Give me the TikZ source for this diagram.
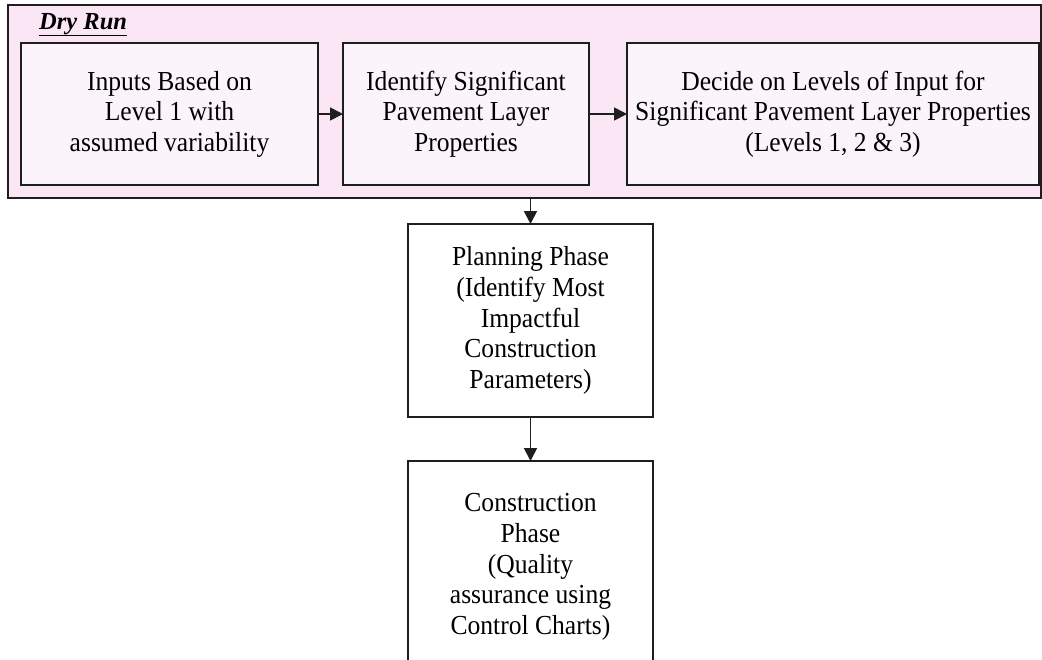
\documentclass[tikz,border=0pt]{standalone}
\usepackage{fontspec}
\setmainfont{Liberation Serif}[FakeStretch=0.93]
\newfontfamily\titlefont{Liberation Serif}
\usetikzlibrary{arrows.meta}
\definecolor{outerpink}{RGB}{251,230,246}
\definecolor{innerpink}{RGB}{252,244,251}
\definecolor{edge}{RGB}{30,30,30}
\tikzset{
  outerbox/.style={draw=edge, line width=1.5pt, fill=outerpink, rectangle, inner sep=0pt, outer sep=0pt, anchor=north west},
  stepbox/.style={draw=edge, line width=1.5pt, fill=innerpink, rectangle, inner sep=0pt, outer sep=0pt, anchor=north west, align=center, font=\fontsize{27.5}{30.5}\selectfont},
  phasebox/.style={draw=edge, line width=1.5pt, fill=white, rectangle, inner sep=0pt, outer sep=0pt, anchor=north west, align=center, font=\fontsize{27.5}{30.7}\selectfont},
  arr/.style={draw=edge, line width=1.8pt, -{Triangle[length=13pt,width=13pt]}},
  titlelbl/.style={anchor=base west, inner sep=0pt, font=\titlefont\fontsize{24.5}{26}\selectfont\bfseries\itshape}
}
\begin{document}
\begin{tikzpicture}[x=1pt,y=-1pt]
\useasboundingbox (0,0) rectangle (1042,659);
\clip (0,0) rectangle (1042,659);
\node[outerbox, minimum width=1033pt, minimum height=193pt] (outer) at (8,5) {};
\node[titlelbl] (title) at (39,29) {\underline{Dry Run}};
\node[stepbox, minimum width=297pt, minimum height=142pt] (b1) at (21,43) {Inputs Based on\\Level 1 with\\assumed variability};
\node[stepbox, minimum width=246pt, minimum height=142pt] (b2) at (343,43) {Identify Significant\\Pavement Layer\\Properties};
\node[stepbox, minimum width=412pt, minimum height=142pt] (b3) at (627,43) {Decide on Levels of Input for\\Significant Pavement Layer Properties\\(Levels 1, 2 \& 3)};
\node[phasebox, minimum width=245pt, minimum height=193pt] (plan) at (408,224) {Planning Phase\\(Identify Most\\Impactful\\Construction\\Parameters)};
\node[phasebox, minimum width=245pt, minimum height=212pt] (cons) at (408,461) {Construction\\Phase\\(Quality\\assurance using\\Control Charts)};
\draw[arr] (b1.east) -- (b2.west);
\draw[arr] (b2.east) -- (b3.west);
\draw[arr] (plan.north |- outer.south) -- (plan.north);
\draw[arr] (plan.south) -- (cons.north);
\end{tikzpicture}
\end{document}
